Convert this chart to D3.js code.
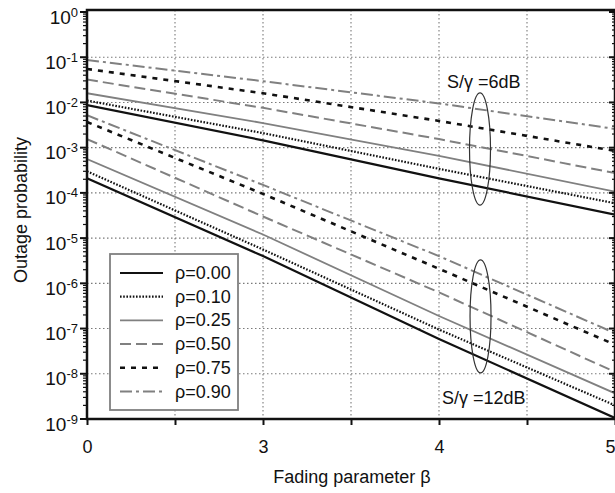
<!DOCTYPE html>
<html>
<head>
<meta charset="utf-8">
<script src="https://cdn.jsdelivr.net/npm/d3@7"></script>
<style>
  body { margin: 0; background: #fff; }
  svg { display: block; }
  text { font-family: "Liberation Sans", Arial, sans-serif; fill: #111; }
</style>
</head>
<body>
<svg id="chart" width="615" height="493"></svg>
<script>
// Fading parameter β at which each curve is sampled
const betaValues = [2, 3, 4, 5];

// Correlation coefficients and their legend labels
const rhoValues = [0.00, 0.10, 0.25, 0.50, 0.75, 0.90];
const rhoLabels = ["ρ=0.00", "ρ=0.10", "ρ=0.25", "ρ=0.50", "ρ=0.75", "ρ=0.90"];

// Outage probability, S/γ = 6 dB (one row per ρ, columns follow betaValues)
const outage6dB = [
  [8.7e-3, 1.45e-3, 2.1e-4, 3.3e-5],
  [1.1e-2, 2.1e-3, 3.4e-4, 5.9e-5],
  [1.6e-2, 3.5e-3, 6.6e-4, 1.07e-4],
  [3.2e-2, 7.6e-3, 1.55e-3, 2.75e-4],
  [5.5e-2, 1.6e-2, 3.9e-3, 8.5e-4],
  [8.7e-2, 2.95e-2, 9.5e-3, 2.6e-3]
];

// Outage probability, S/γ = 12 dB
const outage12dB = [
  [2.1e-4, 4.0e-6, 5.9e-8, 1.05e-9],
  [3.0e-4, 5.6e-6, 9.5e-8, 2.0e-9],
  [5.6e-4, 1.2e-5, 1.9e-7, 3.7e-9],
  [1.55e-3, 3.0e-5, 6.3e-7, 1.1e-8],
  [3.7e-3, 9.5e-5, 2.1e-6, 4.4e-8],
  [5.2e-3, 1.5e-4, 4.0e-6, 7.9e-8]
];

// Axis ticks
const xTickValues = [2, 2.5, 3, 3.5, 4, 4.5, 5];
const xTickLabels = ["0", "", "3", "", "4", "", "5"];
const yExponents = [0, -1, -2, -3, -4, -5, -6, -7, -8, -9];

// Line styles per ρ
const styles = [
  { color: "#111", width: 2.2, dash: null },
  { color: "#111", width: 2.2, dash: "1.6,1.6" },
  { color: "#808080", width: 1.8, dash: null },
  { color: "#808080", width: 2, dash: "11,5" },
  { color: "#111", width: 2.6, dash: "5,6" },
  { color: "#808080", width: 2, dash: "12,4,3,4" }
];

const svg = d3.select("#chart");
const x = d3.scaleLinear().domain([2, 5]).range([87, 615]);
const y = d3.scaleLog().domain([1e-9, 1]).range([419, 12]);

const x0 = x(2), x1 = x(5), yTop = y(1) - 2, yBot = y(1e-9);

svg.append("defs").append("clipPath").attr("id", "plotClip")
  .append("rect").attr("x", x0).attr("y", yTop).attr("width", x1 - x0).attr("height", yBot - yTop);

// Dotted grid
const grid = svg.append("g").attr("stroke", "#7a7a7a").attr("stroke-width", 1.1)
  .attr("stroke-dasharray", "1.5,2.5");
grid.selectAll("line.v").data(xTickValues.filter(v => v > 2 && v < 5)).join("line")
  .attr("x1", d => x(d)).attr("x2", d => x(d)).attr("y1", yTop).attr("y2", yBot);
grid.selectAll("line.h").data(yExponents.filter(e => e < 0 && e > -9)).join("line")
  .attr("x1", x0).attr("x2", x1).attr("y1", d => y(Math.pow(10, d))).attr("y2", d => y(Math.pow(10, d)));

// Curves
const line = d3.line().x(d => x(d[0])).y(d => y(d[1]));
const curves = svg.append("g").attr("clip-path", "url(#plotClip)").attr("fill", "none");
[outage6dB, outage12dB].forEach(group => {
  group.forEach((row, i) => {
    const pts = betaValues.map((b, j) => [b, row[j]]);
    curves.append("path").datum(pts).attr("d", line)
      .attr("stroke", styles[i].color).attr("stroke-width", styles[i].width)
      .attr("stroke-dasharray", styles[i].dash);
  });
});

// Y-axis ticks (left outward, right inward), major at decades, minor at 2..9
const minor = [];
yExponents.filter(e => e < 0).forEach(e => d3.range(2, 10).forEach(m => minor.push(m * Math.pow(10, e))));
const ticks = svg.append("g").attr("stroke", "#111");
ticks.selectAll("line.minL").data(minor).join("line")
  .attr("x1", x0 - 4).attr("x2", x0).attr("y1", d => y(d)).attr("y2", d => y(d)).attr("stroke-width", 1.2);
ticks.selectAll("line.majL").data(yExponents).join("line")
  .attr("x1", x0 - 7).attr("x2", x0).attr("y1", d => y(Math.pow(10, d))).attr("y2", d => y(Math.pow(10, d))).attr("stroke-width", 2);
ticks.selectAll("line.minR").data(minor).join("line")
  .attr("x1", x1 - 3).attr("x2", x1).attr("y1", d => y(d)).attr("y2", d => y(d)).attr("stroke-width", 1.2);
ticks.selectAll("line.majR").data(yExponents).join("line")
  .attr("x1", x1 - 6).attr("x2", x1).attr("y1", d => y(Math.pow(10, d))).attr("y2", d => y(Math.pow(10, d))).attr("stroke-width", 2);

// Y tick labels 10^n
const yLab = svg.append("g").selectAll("text").data(yExponents).join("text")
  .attr("x", 78).attr("y", d => y(Math.pow(10, d)) + 11.5).attr("text-anchor", "end")
  .style("font-size", "19px");
yLab.append("tspan").text("10");
yLab.append("tspan").attr("dy", -7).style("font-size", "13px").text(d => String(d));

// X axis
const xAxis = d3.axisBottom(x).tickValues(xTickValues).tickSize(6)
  .tickFormat((d, i) => xTickLabels[i]);
const gx = svg.append("g").attr("transform", `translate(0,${yBot})`).call(xAxis);
gx.select(".domain").remove();
gx.selectAll(".tick line").attr("stroke", "#111").attr("stroke-width", 2);
gx.selectAll(".tick text").attr("y", 21).attr("dy", "0.71em")
  .style("font-size", "18px").style("font-family", "'Liberation Sans', Arial, sans-serif").attr("fill", "#111");
// keep the last label inside the page
gx.selectAll(".tick text").filter(d => d === 5).attr("text-anchor", "end").attr("x", 0);

// Frame
svg.append("rect").attr("x", x0).attr("y", yTop).attr("width", x1 - x0).attr("height", yBot - yTop)
  .attr("fill", "none").attr("stroke", "#111").attr("stroke-width", 2.5);

// Axis titles
svg.append("text").attr("x", 352).attr("y", 483).attr("text-anchor", "middle")
  .style("font-size", "18px").text("Fading parameter β");
svg.append("text").attr("transform", "translate(27,210) rotate(-90)").attr("text-anchor", "middle")
  .style("font-size", "18px").text("Outage probability");

// Group annotations
const notes = [
  { text: "S/γ =6dB", bx: 4.045, py: Math.pow(10, -1.68), cx: 4.233, top: Math.pow(10, -1.79), bot: Math.pow(10, -4.27) },
  { text: "S/γ =12dB", bx: 4.017, py: Math.pow(10, -8.67), cx: 4.236, top: Math.pow(10, -5.48), bot: Math.pow(10, -7.98) }
];
notes.forEach(n => {
  svg.append("text").attr("x", x(n.bx)).attr("y", y(n.py)).style("font-size", "18px").text(n.text);
  svg.append("ellipse").attr("cx", x(n.cx)).attr("cy", (y(n.top) + y(n.bot)) / 2)
    .attr("rx", 10.5).attr("ry", (y(n.bot) - y(n.top)) / 2)
    .attr("fill", "none").attr("stroke", "#333").attr("stroke-width", 1.2);
});

// Legend
const legend = svg.append("g");
legend.append("rect").attr("x", 110).attr("y", 254).attr("width", 128).attr("height", 156)
  .attr("fill", "#fff").attr("stroke", "#808080").attr("stroke-width", 1.8);
rhoLabels.forEach((lab, i) => {
  const ly = 273 + i * 23.7;
  legend.append("line").attr("x1", 120).attr("x2", 163).attr("y1", ly).attr("y2", ly)
    .attr("stroke", styles[i].color).attr("stroke-width", styles[i].width)
    .attr("stroke-dasharray", styles[i].dash);
  legend.append("text").attr("x", 175).attr("y", ly + 6).style("font-size", "18px").text(lab);
});
</script>
</body>
</html>
